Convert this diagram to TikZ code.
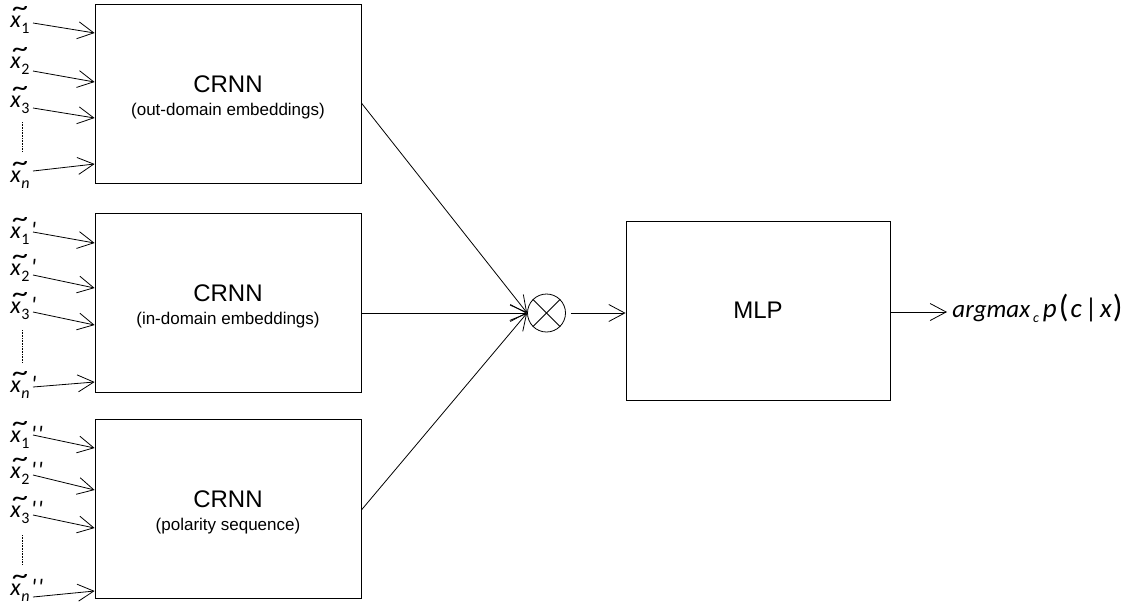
\documentclass[tikz,border=0pt]{standalone}
\usepackage{fontspec}
\setmainfont{Liberation Sans}
\newfontfamily\carl{Carlito}
\usetikzlibrary{arrows.meta,calc}
\newcommand\tilx{\rlap{\raisebox{0.45em}[0pt][0pt]{\kern0.1em\scalebox{1.35}[1.15]{\textasciitilde}}}x}
\newcommand\xlab[2]{{\carl\itshape\fontsize{24}{26}\selectfont\tilx\kern0.5pt\raisebox{-6pt}[0pt][0pt]{\fontsize{16}{18}\selectfont #1}#2}}
\newcommand\pr{\kern1.5pt\textquotesingle}
\begin{document}
\begin{tikzpicture}[x=1pt,y=-1pt,
  line width=0.8pt,
  box/.style={draw, line width=0.8pt, inner sep=0pt},
  lab/.style={anchor=base west, inner sep=0pt},
  arr/.style={-{Straight Barb[length=16pt,width=17pt,line width=0.8pt]}},
  title/.style={font=\fontsize{24}{26}\selectfont, anchor=base},
  sub/.style={font=\fontsize{17}{19}\selectfont, anchor=base}]
\useasboundingbox (0,0) rectangle (1129,606);
% boxes
\node[box, minimum width=266pt, minimum height=179pt] (b1) at (228,93.5) {};
\node[box, minimum width=266pt, minimum height=179pt] (b2) at (228,303) {};
\node[box, minimum width=266pt, minimum height=179pt] (b3) at (228,508.5) {};
\node[box, minimum width=264pt, minimum height=179pt] (mlp) at (758,310.5) {};
\node[title] (t1) at (228,92) {CRNN};
\node[sub] (s1) at (228,115) {(out-domain embeddings)};
\node[title] (t2) at (228,301) {CRNN};
\node[sub] (s2) at (228,324) {(in-domain embeddings)};
\node[title] (t3) at (228,507) {CRNN};
\node[sub] (s3) at (228,530) {(polarity sequence)};
\node[title] (tm) at (758,318) {MLP};
% multiplication node
\node[draw, circle, minimum size=38pt, inner sep=0pt] (mul) at (546.5,313) {};
\draw (mul.north west) -- (mul.south east);
\draw (mul.north east) -- (mul.south west);
% output
\node[anchor=base west, inner sep=0pt] (out) at (952,317)
  {\carl\itshape\fontsize{25}{26}\selectfont argmax\kern3pt\raisebox{-5pt}{\fontsize{14}{16}\selectfont c}\kern4pt\fontsize{27}{28}\selectfont p\kern2pt{\fontsize{32}{32}\selectfont\upshape(}\kern2pt c\kern3pt{\upshape|}\kern3pt x\kern1pt{\fontsize{32}{32}\selectfont\upshape)}};
% input labels
\node[lab] (l11) at (10,27) {\xlab{\upshape 1}{}};
\node[lab] (l12) at (10,68) {\xlab{\upshape 2}{}};
\node[lab] (l13) at (10,107) {\xlab{\upshape 3}{}};
\node[lab] (l1n) at (10,182) {\xlab{n}{}};
\node[lab] (l21) at (10,238) {\xlab{\upshape 1}{\pr}};
\node[lab] (l22) at (10,275) {\xlab{\upshape 2}{\pr}};
\node[lab] (l23) at (10,313) {\xlab{\upshape 3}{\pr}};
\node[lab] (l2n) at (10,392) {\xlab{n}{\pr}};
\node[lab] (l31) at (10,442) {\xlab{\upshape 1}{\pr\pr}};
\node[lab] (l32) at (10,478) {\xlab{\upshape 2}{\pr\pr}};
\node[lab] (l33) at (10,517) {\xlab{\upshape 3}{\pr\pr}};
\node[lab] (l3n) at (10,595) {\xlab{n}{\pr\pr}};
% arrow start coordinates
\coordinate (a11) at (33,23);  \coordinate (a12) at (33,71);
\coordinate (a13) at (33,108); \coordinate (a1n) at (33,171);
\coordinate (a21) at (33,232); \coordinate (a22) at (33,275);
\coordinate (a23) at (33,312); \coordinate (a2n) at (33,387);
\coordinate (a31) at (33,435); \coordinate (a32) at (33,475);
\coordinate (a33) at (33,515); \coordinate (a3n) at (33,597);
% input arrows
\draw[arr] (a11) -- (b1.west |- 0,33);
\draw[arr] (a12) -- (b1.west |- 0,82);
\draw[arr] (a13) -- (b1.west |- 0,118);
\draw[arr] (a1n) -- (b1.west |- 0,164);
\draw[arr] (a21) -- (b2.west |- 0,243);
\draw[arr] (a22) -- (b2.west |- 0,288);
\draw[arr] (a23) -- (b2.west |- 0,325);
\draw[arr] (a2n) -- (b2.west |- 0,382);
\draw[arr] (a31) -- (b3.west |- 0,448);
\draw[arr] (a32) -- (b3.west |- 0,490);
\draw[arr] (a33) -- (b3.west |- 0,528);
\draw[arr] (a3n) -- (b3.west |- 0,591);
% dotted continuation marks
\coordinate (d1a) at (22,122); \coordinate (d1b) at (22,152);
\coordinate (d2a) at (22,330); \coordinate (d2b) at (22,363);
\coordinate (d3a) at (22,535); \coordinate (d3b) at (22,565);
\draw[densely dotted, line width=0.6pt] (d1a) -- (d1b);
\draw[densely dotted, line width=0.6pt] (d2a) -- (d2b);
\draw[densely dotted, line width=0.6pt] (d3a) -- (d3b);
% merge arrows
\draw[arr] (b1.east |- 0,103) -- (mul.west);
\draw[arr] (b2.east |- mul.west) -- (mul.west);
\draw[arr] (b3.east |- 0,510) -- (mul.west);
\draw[arr] ($(mul.east)+(5,0)$) -- (mlp.west |- mul.east);
\coordinate (oe) at (947,312);
\draw[arr] (mlp.east |- oe) -- (oe);
\end{tikzpicture}
\end{document}
